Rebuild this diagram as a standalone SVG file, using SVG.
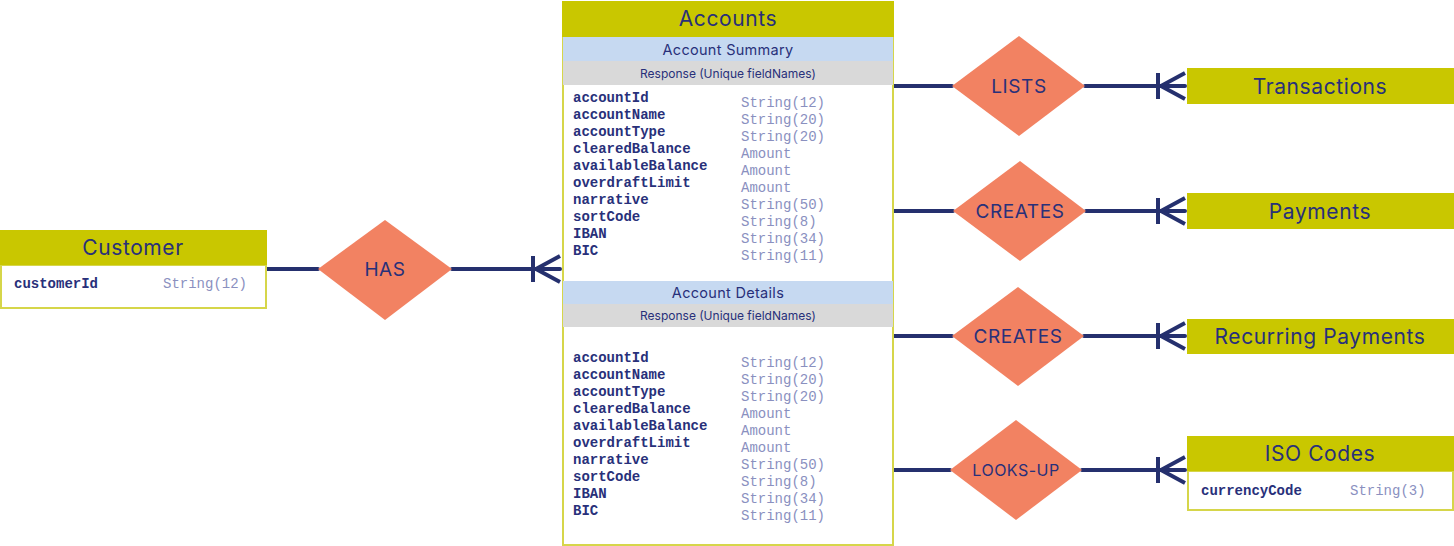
<svg xmlns="http://www.w3.org/2000/svg" width="1454" height="546" viewBox="0 0 1454 546">
<style>
.hdr{fill:#c9c700}
.box{fill:#fff;stroke:#d6d64a;stroke-width:2}
.sum{fill:#c6d9f1}
.resp{fill:#d9d9d9}
.dia{fill:#f28262}
.t{font-family:Inter,"Noto Sans",sans-serif;fill:#28307a;text-anchor:middle;dominant-baseline:central}
.h20{font-size:21px;letter-spacing:0.6px}
.h18{font-size:19px;letter-spacing:0.6px}
.h16{font-size:16px;letter-spacing:0.5px}
.h14{font-size:14.5px;letter-spacing:0.3px}
.h12{font-size:12px}
.f{font-family:"Liberation Mono","Courier New",monospace;font-weight:bold;font-size:14px;fill:#28307a}
.ty{font-family:"Liberation Mono","Courier New",monospace;font-size:14px;fill:#8a90bf}
.ln{stroke:#25306e;stroke-width:4;fill:none;stroke-linecap:round}
</style>
<defs>
<g id="crow"><path class="ln" d="M-29,-13 V13 M-26,0 L-2,-13 M-26,0 L-2,13" style="stroke-linecap:butt"/></g>
</defs>
<g id="connectors">
<path class="ln" d="M266,269 H318 M452,269 H560"/>
<use href="#crow" x="562" y="269"/>
<path class="ln" d="M894,86 H952 M1085,86 H1185"/>
<use href="#crow" x="1187" y="86"/>
<path class="ln" d="M894,211 H953 M1086,211 H1185"/>
<use href="#crow" x="1187" y="211"/>
<path class="ln" d="M894,336 H952 M1084,336 H1185"/>
<use href="#crow" x="1187" y="336"/>
<path class="ln" d="M894,470 H950 M1082,470 H1185"/>
<use href="#crow" x="1187" y="470"/>
</g>
<g id="customer">
<rect class="box" x="1" y="265" width="265" height="43"/>
<rect class="hdr" x="0" y="230" width="267" height="35"/>
<text class="t h20" x="133" y="247">Customer</text>
<text class="f" x="14" y="288">customerId</text>
<text class="ty" x="163" y="288">String(12)</text>
</g>
<g id="has">
<polygon class="dia" points="385,220 452,269 385,320 318,269"/>
<text class="t h18" x="385" y="269">HAS</text>
</g>
<g id="accounts">
<rect class="box" x="563" y="37" width="330" height="508"/>
<rect class="hdr" x="562" y="1" width="332" height="36"/>
<text class="t h20" x="728" y="18">Accounts</text>
<rect class="sum" x="563" y="37" width="330" height="24"/>
<text class="t h14" x="728" y="49">Account Summary</text>
<rect class="resp" x="563" y="61" width="330" height="24"/>
<text class="t h12" x="728" y="73">Response (Unique fieldNames)</text>
<g class="f">
<text x="573" y="102">accountId</text>
<text x="573" y="119">accountName</text>
<text x="573" y="136">accountType</text>
<text x="573" y="153">clearedBalance</text>
<text x="573" y="170">availableBalance</text>
<text x="573" y="187">overdraftLimit</text>
<text x="573" y="204">narrative</text>
<text x="573" y="221">sortCode</text>
<text x="573" y="238">IBAN</text>
<text x="573" y="255">BIC</text>
</g>
<g class="ty">
<text x="741" y="107">String(12)</text>
<text x="741" y="124">String(20)</text>
<text x="741" y="141">String(20)</text>
<text x="741" y="158">Amount</text>
<text x="741" y="175">Amount</text>
<text x="741" y="192">Amount</text>
<text x="741" y="209">String(50)</text>
<text x="741" y="226">String(8)</text>
<text x="741" y="243">String(34)</text>
<text x="741" y="260">String(11)</text>
</g>
<rect class="sum" x="563" y="281" width="330" height="23"/>
<text class="t h14" x="728" y="292">Account Details</text>
<rect class="resp" x="563" y="304" width="330" height="23"/>
<text class="t h12" x="728" y="315">Response (Unique fieldNames)</text>
<g class="f">
<text x="573" y="362">accountId</text>
<text x="573" y="379">accountName</text>
<text x="573" y="396">accountType</text>
<text x="573" y="413">clearedBalance</text>
<text x="573" y="430">availableBalance</text>
<text x="573" y="447">overdraftLimit</text>
<text x="573" y="464">narrative</text>
<text x="573" y="481">sortCode</text>
<text x="573" y="498">IBAN</text>
<text x="573" y="515">BIC</text>
</g>
<g class="ty">
<text x="741" y="367">String(12)</text>
<text x="741" y="384">String(20)</text>
<text x="741" y="401">String(20)</text>
<text x="741" y="418">Amount</text>
<text x="741" y="435">Amount</text>
<text x="741" y="452">Amount</text>
<text x="741" y="469">String(50)</text>
<text x="741" y="486">String(8)</text>
<text x="741" y="503">String(34)</text>
<text x="741" y="520">String(11)</text>
</g>
</g>
<g id="lists">
<polygon class="dia" points="1019,36 1085,86 1019,136 952,86"/>
<text class="t h18" x="1019" y="86">LISTS</text>
</g>
<g id="creates1">
<polygon class="dia" points="1020,161 1086,211 1020,261 953,211"/>
<text class="t h18" x="1020" y="211">CREATES</text>
</g>
<g id="creates2">
<polygon class="dia" points="1018,287 1084,336 1018,386 952,336"/>
<text class="t h18" x="1018" y="336">CREATES</text>
</g>
<g id="looksup">
<polygon class="dia" points="1016,420 1082,470 1016,520 950,470"/>
<text class="t h16" x="1016" y="470">LOOKS-UP</text>
</g>
<g id="transactions">
<rect class="hdr" x="1187" y="68" width="267" height="36"/>
<text class="t h20" x="1320" y="86">Transactions</text>
</g>
<g id="payments">
<rect class="hdr" x="1187" y="193" width="267" height="36"/>
<text class="t h20" x="1320" y="211">Payments</text>
</g>
<g id="recurring">
<rect class="hdr" x="1187" y="319" width="267" height="35"/>
<text class="t h20" x="1320" y="336">Recurring Payments</text>
</g>
<g id="isocodes">
<rect class="box" x="1188" y="471" width="265" height="39"/>
<rect class="hdr" x="1187" y="436" width="267" height="35"/>
<text class="t h20" x="1320" y="453">ISO Codes</text>
<text class="f" x="1201" y="495">currencyCode</text>
<text class="ty" x="1350" y="495">String(3)</text>
</g>
</svg>
